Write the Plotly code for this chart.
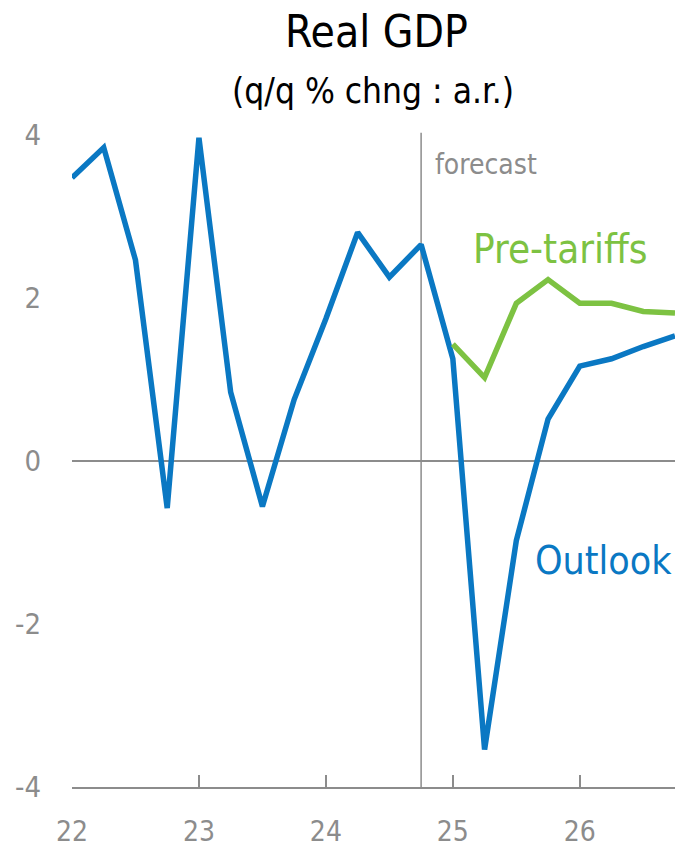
import plotly.graph_objects as go

quarters_outlook = [22.0, 22.25, 22.5, 22.75, 23.0, 23.25, 23.5, 23.75, 24.0, 24.25, 24.5, 24.75,
                    25.0, 25.25, 25.5, 25.75, 26.0, 26.25, 26.5, 26.75]
outlook = [3.47, 3.84, 2.46, -0.58, 3.96, 0.84, -0.56, 0.75, 1.74, 2.8, 2.25, 2.65,
           1.25, -3.54, -0.98, 0.51, 1.16, 1.25, 1.4, 1.53]

quarters_pre = [25.0, 25.25, 25.5, 25.75, 26.0, 26.25, 26.5, 26.75]
pre_tariffs = [1.43, 1.02, 1.93, 2.22, 1.93, 1.93, 1.83, 1.81]

x_ticks = [22, 23, 24, 25, 26]
x_tick_labels = ["22", "23", "24", "25", "26"]
y_ticks = [-4, -2, 0, 2, 4]
y_tick_labels = ["-4", "-2", "0", "2", "4"]
forecast_start = 24.75

BLUE = "#0a78c3"
GREEN = "#7dc242"
GRAY = "#8c8c8c"
FONT = "Liberation Sans Narrow, DejaVu Sans Condensed, Roboto, sans-serif"

# plot area geometry (pixels)
TOP, BOTTOM = 110, 787
LEFT, RIGHT = 72, 675
PH = BOTTOM - TOP
PW = RIGHT - LEFT

def py(pix):
    return (BOTTOM - pix) / PH

def px(pix):
    return (pix - LEFT) / PW

fig = go.Figure()
fig.add_trace(go.Scatter(x=quarters_outlook, y=outlook, mode="lines",
                         line=dict(color=BLUE, width=5.5), showlegend=False, hoverinfo="skip"))
fig.add_trace(go.Scatter(x=quarters_pre, y=pre_tariffs, mode="lines",
                         line=dict(color=GREEN, width=5.5), showlegend=False, hoverinfo="skip"))

fig.add_shape(type="line", xref="x", yref="y", x0=forecast_start, x1=forecast_start,
              y0=-4, y1=4.02, line=dict(color=GRAY, width=1.5), layer="below")

fig.add_annotation(x=forecast_start, y=3.63, xref="x", yref="y", text="forecast",
                   showarrow=False, xanchor="left", xshift=12,
                   font=dict(family=FONT, size=28, color=GRAY))
fig.add_annotation(x=25.14, y=2.6, xref="x", yref="y", text="Pre-tariffs",
                   showarrow=False, xanchor="left",
                   font=dict(family=FONT, size=40, color=GREEN))
fig.add_annotation(x=25.63, y=-1.22, xref="x", yref="y", text="Outlook",
                   showarrow=False, xanchor="left",
                   font=dict(family=FONT, size=39, color=BLUE))

# title and subtitle
fig.add_annotation(x=px(376), y=py(32), xref="paper", yref="paper", text="Real GDP",
                   showarrow=False, xanchor="center", yanchor="middle",
                   font=dict(family=FONT, size=44, color="black"))
fig.add_annotation(x=px(373), y=py(91), xref="paper", yref="paper", text="(q/q % chng : a.r.)",
                   showarrow=False, xanchor="center", yanchor="middle",
                   font=dict(family=FONT, size=35, color="black"))

fig.update_layout(
    width=675, height=848,
    margin=dict(l=LEFT, r=675 - RIGHT, t=TOP, b=848 - BOTTOM, autoexpand=False),
    paper_bgcolor="white", plot_bgcolor="white",
    xaxis=dict(range=[22, 26.75], tickvals=x_ticks, ticktext=x_tick_labels,
               showgrid=False, zeroline=False, showline=True, linecolor=GRAY, linewidth=1.5,
               ticks="inside", ticklen=12, tickwidth=1.5, tickcolor=GRAY,
               ticklabelstandoff=19, automargin=False,
               tickfont=dict(family=FONT, size=28, color=GRAY), fixedrange=True),
    yaxis=dict(range=[-4, 4.3], tickvals=y_ticks, ticktext=y_tick_labels,
               showgrid=False, zeroline=True, zerolinecolor=GRAY, zerolinewidth=1.5,
               showline=False, ticks="", ticklabelstandoff=30, automargin=False,
               tickfont=dict(family=FONT, size=29, color=GRAY), fixedrange=True),
)

fig.write_html("out.html", config={"displayModeBar": False},
               post_script="document.body.style.margin='0';document.body.style.overflow='hidden';")
